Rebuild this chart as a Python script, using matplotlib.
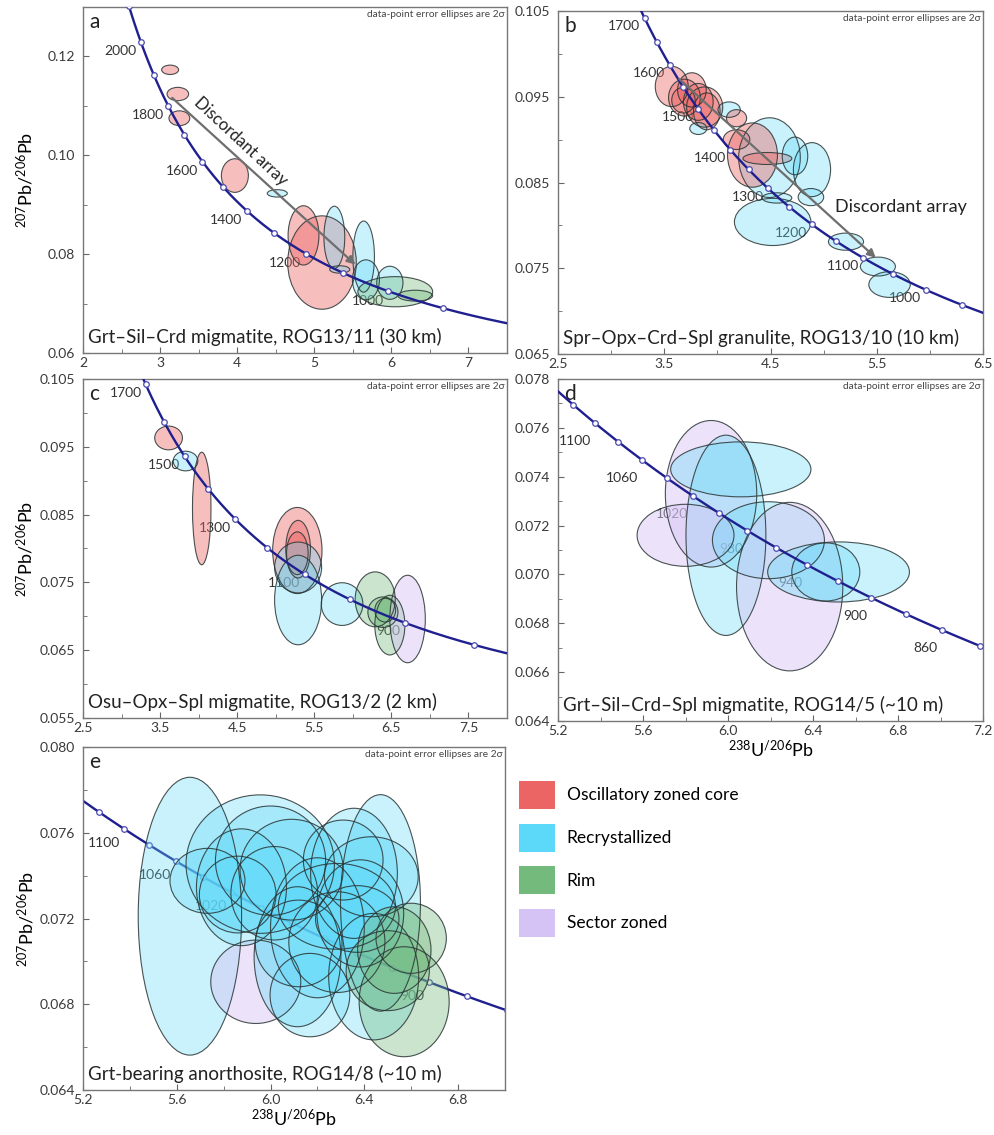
import numpy as np
import matplotlib
matplotlib.use('Agg')
import matplotlib.pyplot as plt
from matplotlib.patches import Ellipse, Patch

plt.rcParams['font.family'] = ['Lato', 'DejaVu Sans']
plt.rcParams['mathtext.default'] = 'regular'

# Tera-Wasserburg concordia (decay constants per Ma)
L238 = 1.55125e-4
L235 = 9.8485e-4
U85 = 137.88

colors = {'core': '#ec6565', 'recr': '#5cd9f8', 'rim': '#74ba7c', 'sect': '#d5c3f5'}
alphas = {'core': 0.42, 'recr': 0.33, 'rim': 0.38, 'sect': 0.45}
legend_names = ['Oscillatory zoned core', 'Recrystallized', 'Rim', 'Sector zoned']

# ---- panel a: ROG13/11
a_x = [3.13, 3.23, 3.25, 3.97, 4.52, 5.10, 4.86, 5.26, 5.64, 5.67, 5.98, 6.05, 6.31, 5.33]
a_y = [0.1173, 0.1124, 0.1075, 0.0959, 0.0923, 0.0783, 0.0838, 0.0834, 0.0795, 0.0748, 0.0742, 0.0724, 0.0716, 0.0769]
a_w = [0.22, 0.28, 0.27, 0.35, 0.26, 0.89, 0.40, 0.27, 0.28, 0.35, 0.34, 0.97, 0.45, 0.26]
a_h = [0.0019, 0.0027, 0.0030, 0.0068, 0.0015, 0.0189, 0.0120, 0.0126, 0.0144, 0.0081, 0.0067, 0.0061, 0.0022, 0.0015]
a_kind = ['core', 'core', 'core', 'core', 'recr', 'core', 'core', 'recr', 'recr', 'recr', 'recr', 'rim', 'rim', 'recr']
a_ages = list(range(800, 2101, 100))
a_labels = [2000, 1800, 1600, 1400, 1200, 1000]

# ---- panel b: ROG13/10
b_x = [3.57, 3.69, 3.68, 3.76, 3.82, 3.88, 3.90, 4.11, 3.82, 4.18, 4.18, 4.49, 4.33, 4.47, 4.73, 4.89, 4.88, 4.56, 4.52, 5.21, 5.51, 5.62]
b_y = [0.0962, 0.0949, 0.0946, 0.0958, 0.0944, 0.0938, 0.0933, 0.0935, 0.0913, 0.0925, 0.0900, 0.0879, 0.0882, 0.0878, 0.0881, 0.0865, 0.0833, 0.0832, 0.0804, 0.0781, 0.0752, 0.0731]
b_w = [0.31, 0.30, 0.22, 0.27, 0.28, 0.34, 0.25, 0.21, 0.16, 0.19, 0.25, 0.58, 0.47, 0.46, 0.24, 0.35, 0.24, 0.28, 0.72, 0.33, 0.33, 0.39]
b_h = [0.0047, 0.0043, 0.0030, 0.0040, 0.0043, 0.0047, 0.0043, 0.0018, 0.0014, 0.0020, 0.0023, 0.0093, 0.0075, 0.0014, 0.0044, 0.0063, 0.0020, 0.0012, 0.0055, 0.0020, 0.0022, 0.0030]
b_kind = ['core', 'core', 'core', 'core', 'core', 'core', 'core', 'recr', 'recr', 'core', 'core', 'recr', 'core', 'core', 'recr', 'recr', 'recr', 'recr', 'recr', 'recr', 'recr', 'recr']
b_ages = list(range(900, 1801, 50))
b_labels = [1700, 1600, 1500, 1400, 1300, 1200, 1100, 1000]

# ---- panel c: ROG13/2
c_x = [3.61, 3.83, 4.04, 5.28, 5.29, 5.28, 5.29, 5.29, 5.86, 6.29, 6.39, 6.42, 6.48, 6.71]
c_y = [0.0963, 0.0929, 0.0859, 0.0797, 0.0799, 0.0793, 0.0772, 0.0724, 0.0718, 0.0725, 0.0706, 0.0709, 0.0687, 0.0696]
c_w = [0.36, 0.32, 0.24, 0.64, 0.32, 0.28, 0.61, 0.61, 0.54, 0.52, 0.39, 0.27, 0.39, 0.46]
c_h = [0.0035, 0.0029, 0.0166, 0.0127, 0.0085, 0.0063, 0.0075, 0.0132, 0.0063, 0.0081, 0.0045, 0.0035, 0.0088, 0.0129]
c_kind = ['core', 'recr', 'core', 'core', 'core', 'core', 'recr', 'recr', 'recr', 'rim', 'rim', 'rim', 'rim', 'sect']
c_ages = list(range(700, 1801, 100))
c_labels = [1700, 1500, 1300, 1100, 900]

# ---- panel d: ROG14/5
d_x = [5.92, 5.99, 6.06, 5.80, 6.19, 6.29, 6.52, 6.46]
d_y = [0.0733, 0.0716, 0.0743, 0.0716, 0.0714, 0.0695, 0.0701, 0.0701]
d_w = [0.43, 0.376, 0.66, 0.456, 0.527, 0.50, 0.667, 0.32]
d_h = [0.0060, 0.0082, 0.00225, 0.00254, 0.00315, 0.0069, 0.00246, 0.00238]
d_kind = ['sect', 'recr', 'recr', 'sect', 'recr', 'sect', 'recr', 'recr']
d_ages = list(range(820, 1161, 20))
d_labels = [1100, 1060, 1020, 980, 940, 900, 860]

# ---- panel e: ROG14/8
e_x = [5.656, 5.937, 5.731, 5.956, 5.876, 6.00, 6.09, 6.115, 6.20, 6.283, 6.283, 6.356, 6.37, 6.31,
       6.469, 6.43, 6.44, 6.016, 6.12, 5.86, 6.168, 6.383, 6.50, 6.60, 6.57, 6.528]
e_y = [0.07211, 0.06905, 0.07376, 0.07454, 0.07346, 0.07470, 0.07428, 0.07022, 0.07157, 0.07257, 0.07090,
       0.07411, 0.07198, 0.07473, 0.07273, 0.07395, 0.06929, 0.07318, 0.07084, 0.07312, 0.06843, 0.07224,
       0.06957, 0.07108, 0.06812, 0.07053]
e_w = [0.441, 0.384, 0.32, 0.633, 0.384, 0.47, 0.44, 0.37, 0.40, 0.50, 0.41, 0.37, 0.356, 0.34,
       0.341, 0.40, 0.384, 0.37, 0.37, 0.327, 0.34, 0.37, 0.355, 0.30, 0.384, 0.313]
e_h = [0.01296, 0.00389, 0.00303, 0.00646, 0.00545, 0.0051, 0.0047, 0.00653, 0.00653, 0.0040, 0.0047,
       0.00607, 0.00311, 0.00373, 0.0101, 0.00373, 0.0059, 0.00436, 0.00404, 0.00358, 0.00389, 0.0050,
       0.00373, 0.00327, 0.00513, 0.00404]
e_kind = ['recr', 'sect', 'recr', 'recr', 'recr', 'recr', 'recr', 'recr', 'recr', 'recr', 'recr',
          'recr', 'recr', 'recr', 'recr', 'recr', 'recr', 'recr', 'recr', 'recr', 'recr', 'recr',
          'rim', 'rim', 'rim', 'rim']
e_ages = list(range(820, 1161, 20))
e_labels = [1100, 1060, 1020, 900]


def concordia(t):
    e8 = np.exp(L238 * np.asarray(t, float)) - 1
    e5 = np.exp(L235 * np.asarray(t, float)) - 1
    return 1 / e8, e5 / e8 / U85


def panel(rect, xs, ys, ws, hs, kinds, ages, labels, xlim, ylim, xticks, yticks,
          xfmt, yfmt, letter, sample, lab_off, curve_top=True):
    ax = fig.add_axes(rect)
    ax.set_xlim(*xlim)
    ax.set_ylim(*ylim)
    tt = np.linspace(600, 2500, 1500)
    cx, cy = concordia(tt)
    zc = 4 if curve_top else 1.5
    ax.plot(cx, cy, color='#1f1f8f', lw=1.7, zorder=zc)
    mx, my = concordia(ages)
    ax.plot(mx, my, 'o', ms=4, mfc='white', mec='#4a4ab0', mew=0.9, zorder=zc + 0.1)
    for x, y, w, h, k in zip(xs, ys, ws, hs, kinds):
        ax.add_patch(Ellipse((x, y), w, h, facecolor=colors[k], alpha=alphas[k], zorder=2))
        ax.add_patch(Ellipse((x, y), w, h, facecolor='none', edgecolor='#2b3535',
                             lw=0.8, alpha=0.85, zorder=2.1))
    lx, ly = concordia(labels)
    for a, x, y in zip(labels, lx, ly):
        ax.annotate(str(a), (x, y), xytext=lab_off, textcoords='offset points',
                    ha='right', va='center', fontsize=10, color='#333333', zorder=1)
    ax.set_xticks(xticks)
    ax.set_xticklabels([xfmt % v for v in xticks])
    ax.set_yticks(yticks)
    ax.set_yticklabels([yfmt % v for v in yticks])
    dx = (xticks[1] - xticks[0]) / 2
    dy = (yticks[1] - yticks[0]) / 2
    ax.set_xticks(np.arange(xticks[0], xlim[1] + 1e-9, dx), minor=True)
    ax.set_yticks(np.arange(yticks[0], ylim[1] + 1e-9, dy), minor=True)
    ax.tick_params(which='both', direction='in', labelsize=10, labelcolor='#3a3a3a',
                   color='#666666')
    ax.tick_params(axis='x', which='both', pad=3)
    ax.tick_params(axis='y', which='both', pad=6)
    ax.tick_params(which='major', length=4)
    ax.tick_params(which='minor', length=3)
    for s in ax.spines.values():
        s.set_color('#777777')
        s.set_linewidth(1.0)
    ax.text(0.015, 0.985, letter, transform=ax.transAxes, fontsize=15,
            ha='left', va='top', color='#222222')
    ax.text(0.995, 0.99, 'data-point error ellipses are 2σ', transform=ax.transAxes,
            fontsize=7.3, ha='right', va='top', color='#444444')
    ax.text(0.012, 0.02, sample, transform=ax.transAxes, fontsize=13.5,
            ha='left', va='bottom', color='#222222', zorder=6)
    return ax


fig = plt.figure(figsize=(9.94, 11.35), dpi=100)
ylab = r'$^{207}$Pb/$^{206}$Pb'
xlab = r'$^{238}$U$^{/206}$Pb'

ax_a = panel([0.0835, 0.689, 0.4266, 0.3048], a_x, a_y, a_w, a_h, a_kind, a_ages, a_labels,
             (2, 7.5), (0.06, 0.13), [2, 3, 4, 5, 6, 7], [0.06, 0.08, 0.10, 0.12],
             '%d', '%.2f', 'a', 'Grt–Sil–Crd migmatite, ROG13/11 (30 km)', (-3, -7))
ax_a.set_ylabel(ylab, fontsize=13)
ax_a.yaxis.set_label_coords(-0.11, 0.5)
ax_a.annotate('', xy=(5.56, 0.0775), xytext=(3.13, 0.112),
              arrowprops=dict(arrowstyle='-|>', color='#6e6e6e', lw=1.6, mutation_scale=12), zorder=5)
ax_a.text(4.05, 0.1028, 'Discordant array', rotation=-43, rotation_mode='anchor',
          ha='center', va='center', fontsize=12, color='#222222')

ax_b = panel([0.5614, 0.6881, 0.4276, 0.3022], b_x, b_y, b_w, b_h, b_kind, b_ages, b_labels,
             (2.5, 6.5), (0.065, 0.105), [2.5, 3.5, 4.5, 5.5, 6.5], [0.065, 0.075, 0.085, 0.095, 0.105],
             '%.1f', '%.3f', 'b', 'Spr–Opx–Crd–Spl granulite, ROG13/10 (10 km)', (-3, -6))
ax_b.annotate('', xy=(5.51, 0.0760), xytext=(3.62, 0.0973),
              arrowprops=dict(arrowstyle='-|>', color='#6e6e6e', lw=1.6, mutation_scale=12), zorder=5)
ax_b.text(5.11, 0.0822, 'Discordant array', ha='left', va='center', fontsize=13, color='#222222')

ax_c = panel([0.0835, 0.3674, 0.4266, 0.2987], c_x, c_y, c_w, c_h, c_kind, c_ages, c_labels,
             (2.5, 8.0), (0.055, 0.105), [2.5, 3.5, 4.5, 5.5, 6.5, 7.5], [0.055, 0.065, 0.075, 0.085, 0.095, 0.105],
             '%.1f', '%.3f', 'c', 'Osu–Opx–Spl migmatite, ROG13/2 (2 km)', (-3, -6))
ax_c.set_ylabel(ylab, fontsize=13)
ax_c.yaxis.set_label_coords(-0.11, 0.5)

ax_d = panel([0.5614, 0.3648, 0.4276, 0.3013], d_x, d_y, d_w, d_h, d_kind, d_ages, d_labels,
             (5.2, 7.2), (0.064, 0.078), [5.2, 5.6, 6.0, 6.4, 6.8, 7.2],
             [0.064, 0.066, 0.068, 0.070, 0.072, 0.074, 0.076, 0.078],
             '%.1f', '%.3f', 'd', 'Grt–Sil–Crd–Spl migmatite, ROG14/5 (~10 m)', (-3, -13))
ax_d.set_xlabel(xlab, fontsize=13, labelpad=1)

ax_e = panel([0.0835, 0.0396, 0.4245, 0.3022], e_x, e_y, e_w, e_h, e_kind, e_ages, e_labels,
             (5.2, 7.0), (0.064, 0.080), [5.2, 5.6, 6.0, 6.4, 6.8], [0.064, 0.068, 0.072, 0.076, 0.080],
             '%.1f', '%.3f', 'e', 'Grt-bearing anorthosite, ROG14/8 (~10 m)', (-3, -10), curve_top=False)
ax_e.set_ylabel(ylab, fontsize=13)
ax_e.yaxis.set_label_coords(-0.11, 0.5)
ax_e.set_xlabel(xlab, fontsize=13, labelpad=1)

handles = [Patch(facecolor=colors[k], edgecolor='none') for k in ['core', 'recr', 'rim', 'sect']]
fig.legend(handles, legend_names, loc='upper left', bbox_to_anchor=(0.522, 0.312),
           frameon=False, fontsize=12.5, handlelength=2.1, handleheight=2.1,
           labelspacing=0.85, handletextpad=0.65, borderpad=0, borderaxespad=0)

fig.savefig('out.png', dpi=100)
